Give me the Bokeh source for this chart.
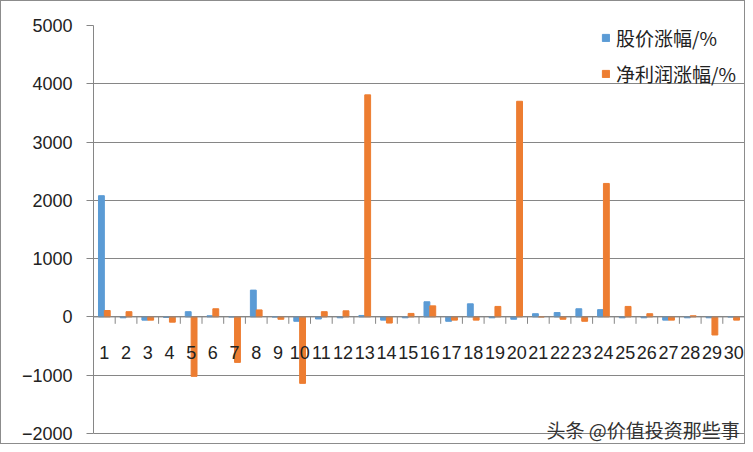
from bokeh.plotting import figure
from bokeh.models import ColumnDataSource, FactorRange, Range1d, Legend, LegendItem, Label, Span, FixedTicker
from bokeh.transform import dodge
from bokeh.core.properties import value
from bokeh.embed import file_html
from bokeh.resources import INLINE

categories = [str(i) for i in range(1, 31)]
price_change = [2080, -15, -55, -10, 90, 20, 0, 460, 0, -75,
                -35, -15, 25, -55, -15, 260, -75, 225, -15, -40,
                55, 75, 140, 125, -15, -15, -55, -15, -15, 0]
profit_change = [110, 90, -55, -90, -1020, 140, -780, 120, -40, -1140,
                 90, 105, 3810, -105, 60, 190, -55, -55, 180, 3700,
                 0, -40, -75, 2290, 180, 55, -55, 20, -310, -55]
y_ticks = [-2000, -1000, 0, 1000, 2000, 3000, 4000, 5000]
series_names = ["股价涨幅/%", "净利润涨幅/%"]

BLUE = "#5B9BD5"
ORANGE = "#ED7D31"
GRAY = "#868686"

src = ColumnDataSource(dict(cat=categories, price=price_change, profit=profit_change))

# frame runs a little below -2000 so the watermark is not clipped
p = figure(x_range=FactorRange(*categories), y_range=Range1d(-2206, y_ticks[-1]),
           width=745, height=444, output_backend="svg", toolbar_location=None,
           x_axis_location=None,
           min_border_left=92, min_border_right=2, min_border_top=24, min_border_bottom=0)
p.styles = {"border": "1px solid #8c8c8c", "box-sizing": "border-box"}

r1 = p.vbar(x=dodge("cat", -0.135, range=p.x_range), top="price", width=0.27,
            source=src, color=BLUE)
r2 = p.vbar(x=dodge("cat", 0.135, range=p.x_range), top="profit", width=0.27,
            source=src, color=ORANGE)

# category axis drawn along zero
p.add_layout(Span(location=0, dimension="width", line_color=GRAY, line_width=1))
p.segment(x0=dodge("cat", 0.5, range=p.x_range), y0=0,
          x1=dodge("cat", 0.5, range=p.x_range), y1=-118,
          source=src, line_color=GRAY, line_width=1)
p.text(x="cat", y=0, text="cat", y_offset=36, source=src,
       text_align="center", text_baseline="middle",
       text_font=value("Liberation Sans"), text_font_size="18px", text_color="#222222")

p.yaxis.ticker = FixedTicker(ticks=y_ticks)
p.yaxis.bounds = (y_ticks[0], y_ticks[-1])
p.yaxis.axis_line_color = GRAY
p.yaxis.major_tick_line_color = GRAY
p.yaxis.major_tick_in = 0
p.yaxis.major_tick_out = 7
p.yaxis.minor_tick_line_color = None
p.yaxis.major_label_standoff = 14
p.yaxis.major_label_text_font = "Liberation Sans"
p.yaxis.major_label_text_font_size = "18px"
p.yaxis.major_label_text_color = "#222222"

p.xgrid.visible = False
p.ygrid.grid_line_color = GRAY
p.outline_line_color = None

legend = Legend(items=[LegendItem(label=series_names[0], renderers=[r1]),
                       LegendItem(label=series_names[1], renderers=[r2])],
                location=(508, 358), padding=0, spacing=9, margin=0,
                glyph_width=9, glyph_height=9, label_height=24, label_standoff=6,
                label_text_font="Noto Sans CJK SC", label_text_font_size="19px",
                label_text_color="#222222",
                border_line_color=None, background_fill_alpha=0)
p.add_layout(legend)

p.add_layout(Label(x=453, y=16, x_units="screen", y_units="screen",
                   text="头条 @价值投资那些事", text_baseline="middle",
                   text_font="Noto Sans CJK SC", text_font_size="19px",
                   text_color="#333333"))

open("out.html", "w").write(file_html(p, INLINE))
